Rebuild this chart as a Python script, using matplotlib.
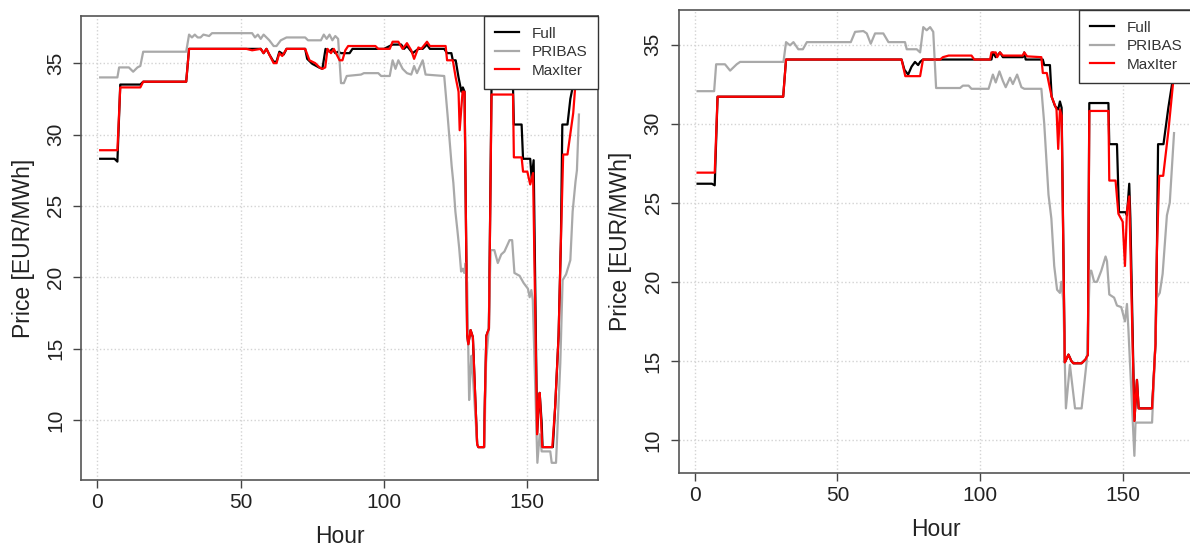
## Price per hour: Full vs PRIBAS vs MaxIter (two cases) ##

import matplotlib
matplotlib.use("Agg")
import matplotlib.pyplot as plt

plt.rcParams['font.family'] = ['Liberation Sans', 'DejaVu Sans']

## LEFT PANEL DATA (hour, price) ##
left_full_h = [1, 6, 7, 8, 15, 16, 31, 32, 57, 58, 59, 60, 61.5, 62.5, 63.5, 65, 66, 72.5, 73.2, 75, 77.3, 78.5,
               79.6, 81, 82, 83, 84, 85, 88, 89, 100, 103, 106, 107, 108, 110, 112, 113.5, 115, 116, 121, 122,
               123.5, 124, 125, 126, 127, 127.5, 128.1, 129, 129.4, 130.2, 131, 131.9, 132.5, 132.9, 134.9,
               135.2, 135.7, 136.6, 137.5, 145, 145.3, 148, 148.5, 151, 151.5, 152.2, 153.4, 154.3, 155,
               155.3, 158.9, 159.7, 160.9, 161.7, 162.2, 164, 165, 167, 168]
left_full_v = [28.3, 28.3, 28.1, 33.5, 33.5, 33.7, 33.7, 36.0, 36.0, 35.7, 36.0, 35.6, 35.1, 35.1, 35.8, 35.6, 36.0,
               36.0, 35.3, 34.95, 34.7, 34.6, 36.0, 35.8, 36.0, 35.7, 35.8, 35.7, 35.7, 36.0, 36.0, 36.3, 36.3,
               36.0, 36.2, 35.7, 36.0, 36.0, 36.3, 36.0, 36.0, 35.7, 35.7, 35.2, 35.2, 34.0, 33.0, 33.3, 33.0,
               16.0, 15.3, 16.3, 15.8, 11.2, 8.3, 8.1, 8.1, 11.5, 15.9, 16.4, 33.3, 33.3, 30.7, 30.7, 28.3,
               28.3, 26.9, 28.2, 9.1, 11.9, 9.8, 8.1, 8.1, 10.9, 15.9, 22.5, 30.7, 30.7, 32.5, 34.5, 35.4]

left_pribas_h = [1, 7, 7.6, 11, 12.5, 14, 15, 16, 31, 32, 33, 34, 35, 36, 37, 39, 40, 54, 55, 56, 57, 58, 59, 60,
                 61.5, 62.5, 64, 66, 72.5, 73.5, 78, 79, 80, 81, 82, 83, 84, 85, 86, 87, 92, 93, 98, 99, 102,
                 103, 104, 105, 106.5, 108, 109.5, 110.5, 111.5, 113.5, 114.5, 121, 122.2, 123.6, 124.2, 124.9,
                 125.6, 126.2, 126.9, 127.5, 128, 128.5, 129, 129.7, 130.2, 130.5, 131, 131.8, 132.5, 133, 135,
                 135.6, 136.4, 137.2, 138.5, 139.7, 140.9, 142, 143.8, 144.7, 145.5, 147.3, 148.7, 150.2,
                 150.8, 151.4, 151.9, 153.5, 154.3, 155, 158, 158.5, 160, 161.5, 162.3, 163.5, 165, 165.8,
                 166.8, 167.3, 168]
left_pribas_v = [34.0, 34.0, 34.7, 34.7, 34.4, 34.7, 34.8, 35.8, 35.8, 37.0, 36.8, 37.0, 36.8, 36.8, 37.0, 36.9,
                 37.1, 37.1, 36.8, 37.0, 36.7, 37.0, 36.8, 36.6, 36.2, 36.2, 36.6, 36.8, 36.8, 36.6, 36.6, 37.0,
                 36.7, 37.0, 36.6, 36.9, 36.7, 33.6, 33.6, 34.1, 34.2, 34.3, 34.3, 34.1, 34.1, 35.2, 34.6, 35.2,
                 34.6, 34.3, 34.2, 34.8, 34.3, 35.2, 34.2, 34.1, 31.3, 27.8, 26.6, 24.6, 23.3, 22.1, 20.4, 20.6,
                 20.3, 21.0, 19.6, 11.4, 13.5, 14.5, 13.1, 10.5, 8.3, 8.1, 8.1, 14.0, 16.0, 21.9, 21.9, 21.0,
                 21.6, 21.8, 22.6, 22.6, 20.3, 20.1, 19.6, 19.2, 18.6, 19.1, 18.4, 7.0, 9.0, 7.8, 7.8, 7.0, 7.0,
                 14.0, 19.8, 20.2, 21.2, 24.6, 26.7, 27.5, 31.4]

left_maxiter_h = [1, 7, 8, 15, 16, 31, 32, 52, 54, 57, 58, 59, 60, 61.5, 62.5, 63.5, 64.5, 66, 72.5, 74, 76, 77.5,
                  78.5, 79.5, 80.3, 81.5, 82.5, 83.5, 84.5, 85.5, 86.5, 87.5, 97, 98, 102, 103, 105, 106.5, 108,
                  109.5, 110.5, 112, 113, 115, 116, 121.5, 122, 124, 125, 126, 126.4, 127.4, 128.1, 129, 129.4,
                  130.2, 131, 131.9, 132.5, 132.9, 134.9, 135.2, 135.7, 136.6, 137.5, 145, 145.3, 148, 148.5,
                  150, 151, 152, 153.4, 153.8, 154.3, 154.7, 155.2, 158.7, 159.7, 160.9, 161.7, 162.5, 164, 166,
                  167.4, 168]
left_maxiter_v = [28.9, 28.9, 33.3, 33.3, 33.7, 33.7, 36.0, 36.0, 35.9, 36.0, 35.7, 36.0, 35.6, 35.0, 35.0, 35.7,
                  35.5, 36.0, 36.0, 35.2, 35.0, 34.7, 34.6, 34.7, 36.0, 35.7, 36.0, 35.6, 35.2, 35.2, 35.9, 36.2,
                  36.2, 36.0, 36.0, 36.5, 36.5, 36.0, 36.4, 35.9, 35.3, 36.1, 36.0, 36.5, 36.2, 36.2, 35.2, 35.2,
                  34.0, 33.0, 30.3, 33.0, 33.0, 16.0, 15.3, 16.3, 15.8, 11.2, 8.3, 8.1, 8.1, 11.5, 15.9, 16.4,
                  32.8, 32.8, 28.4, 28.4, 27.4, 27.4, 26.5, 27.3, 9.0, 10.9, 11.9, 10.4, 8.1, 8.1, 10.9, 15.9,
                  22.5, 28.6, 28.6, 31.5, 35.2, 35.4]

## RIGHT PANEL DATA (hour, price) ##
right_full_h = [1, 6, 7, 8, 31, 32, 72.5, 73.5, 74.8, 76, 77.2, 78.3, 79, 80, 104, 104.5, 105.5, 107, 108, 115,
                115.5, 116, 122, 122.5, 124.5, 125.1, 126.3, 127.4, 128, 128.6, 129.7, 131, 132, 132.7, 135.6,
                137, 137.8, 138.3, 145, 145.3, 148, 148.7, 151, 151.5, 152.3, 152.7, 154.1, 155, 155.6, 160.3,
                161.5, 162, 162.4, 164.3, 166, 168]
right_full_v = [26.2, 26.2, 26.1, 31.7, 31.7, 34.05, 34.05, 33.4, 33.1, 33.6, 33.9, 33.7, 33.9, 34.05, 34.05, 34.5,
                34.2, 34.5, 34.2, 34.2, 34.5, 34.05, 34.05, 33.7, 33.7, 31.7, 31.1, 30.9, 31.4, 31.0, 14.9, 15.4,
                15.0, 14.85, 14.85, 15.1, 15.4, 31.3, 31.3, 28.7, 28.7, 24.4, 24.4, 24.2, 26.2, 24.0, 11.2, 13.8,
                12.0, 12.0, 16.1, 22.0, 28.7, 28.7, 31.0, 33.3]

right_pribas_h = [1, 6.8, 7.5, 10.6, 12.4, 14.7, 15.9, 31.1, 32, 33.4, 34.6, 36.3, 37.9, 39.3, 54.7, 56.2, 59.1,
                  60.3, 61.7, 63.2, 66.1, 67.9, 73.7, 74.3, 77.8, 79, 80.1, 81.3, 82.5, 83.6, 84.6, 93, 94, 96,
                  97, 103, 104.5, 105.5, 106.8, 108, 109, 110.5, 111.5, 113, 114.5, 115.5, 121.5, 122.5, 123.5,
                  124, 125, 126, 127, 128, 128.5, 129.2, 130.1, 131.5, 133.3, 135.6, 137.4, 138.5, 139, 140, 141,
                  142.5, 144, 144.5, 145.3, 147, 148, 149.5, 150.8, 151.5, 152, 154.1, 154.5, 155, 160.3, 161,
                  162, 163, 164, 165.5, 166.5, 168]
right_pribas_v = [32.05, 32.05, 33.75, 33.75, 33.35, 33.75, 33.9, 33.9, 35.15, 34.95, 35.15, 34.7, 34.7, 35.15,
                  35.15, 35.8, 35.85, 35.7, 35.05, 35.7, 35.7, 35.15, 35.15, 34.7, 34.7, 34.5, 36.1, 35.9, 36.1,
                  35.8, 32.25, 32.25, 32.4, 32.4, 32.2, 32.2, 33.1, 32.6, 33.3, 32.7, 32.3, 32.9, 32.5, 33.1, 32.3,
                  32.2, 32.2, 30.0, 27.0, 25.5, 24.0, 21.0, 19.5, 19.3, 20.0, 18.8, 12.0, 14.75, 12.0, 12.0, 15.0,
                  20.7, 20.7, 20.0, 20.0, 20.7, 21.6, 21.3, 19.2, 19.0, 18.5, 18.4, 17.5, 18.6, 17.0, 9.0, 11.1,
                  11.1, 11.1, 14.0, 19.0, 19.3, 20.5, 24.2, 25.0, 29.4]

right_maxiter_h = [1, 7, 8, 31, 32, 72.5, 73.8, 79, 80, 86, 87, 89, 97, 98, 103.5, 104, 105.5, 106, 107, 108, 115,
                   115.5, 116.5, 121.5, 122, 123.4, 125.1, 126.8, 127.4, 128, 128.6, 129.7, 131, 132, 132.7, 135.6,
                   137, 137.8, 138.3, 145, 145.3, 147.5, 148.5, 150, 150.8, 151.5, 152.3, 154.1, 155, 155.6,
                   160.3, 161.5, 162, 162.8, 164.2, 166, 168]
right_maxiter_v = [26.9, 26.9, 31.7, 31.7, 34.05, 34.05, 33.0, 33.0, 34.05, 34.05, 34.2, 34.3, 34.3, 34.05, 34.05,
                   34.5, 34.5, 34.2, 34.5, 34.3, 34.3, 34.5, 34.25, 34.2, 33.2, 33.2, 31.7, 30.9, 28.4, 30.9, 30.5,
                   14.9, 15.4, 15.0, 14.85, 14.85, 15.1, 15.4, 30.8, 30.8, 26.4, 26.4, 24.3, 23.8, 21.0, 24.5, 25.4,
                   11.2, 13.8, 12.0, 12.0, 16.1, 22.0, 26.7, 26.7, 29.5, 33.2]

labels = ["Full", "PRIBAS", "MaxIter"]
x_ticks = [0, 50, 100, 150]
y_ticks = [10, 15, 20, 25, 30, 35]

fig = plt.figure(figsize=(11.9, 5.53), dpi=100)
ax1 = fig.add_axes([0.0681, 0.132, 0.4345, 0.8391])
ax2 = fig.add_axes([0.5702, 0.1447, 0.4324, 0.8373])

panels = [
    (ax1, left_full_h, left_full_v, left_pribas_h, left_pribas_v, left_maxiter_h, left_maxiter_v),
    (ax2, right_full_h, right_full_v, right_pribas_h, right_pribas_v, right_maxiter_h, right_maxiter_v),
]

for ax, fh, fv, ph, pv, mh, mv in panels:
    ax.plot(fh, fv, color="black", lw=1.6, label=labels[0])
    ax.plot(ph, pv, color="#a9a9a9", lw=1.6, label=labels[1])
    ax.plot(mh, mv, color="#ff0000", lw=1.6, label=labels[2])
    ax.margins(x=0.04, y=0.04)
    ax.set_xticks(x_ticks)
    ax.set_yticks(y_ticks)
    ax.grid(True, color="#d3d3d3", linestyle=":", linewidth=1.0)
    ax.set_axisbelow(True)
    ax.tick_params(axis="both", length=5.5, width=1, color="#444", labelsize=15, labelcolor="#222")
    ax.tick_params(axis="x", pad=4)
    ax.tick_params(axis="y", pad=6)
    for lab in ax.get_yticklabels():
        lab.set_rotation(90)
        lab.set_va("center")
    for sp in ax.spines.values():
        sp.set_color("#555")
        sp.set_linewidth(1.2)
    ax.set_xlabel("Hour", fontsize=16.5, color="#222", labelpad=9)
    ax.set_ylabel("Price [EUR/MWh]", fontsize=16.5, color="#222", labelpad=8)
    leg = ax.legend(loc="upper right", borderaxespad=0, fancybox=False, framealpha=1, edgecolor="#333",
                    fontsize=11, handlelength=1.6, handletextpad=0.8, labelspacing=0.3, borderpad=0.7)
    leg.get_frame().set_linewidth(1.0)
    for t in leg.get_texts():
        t.set_color("#333")

fig.savefig("out.png", dpi=100)
